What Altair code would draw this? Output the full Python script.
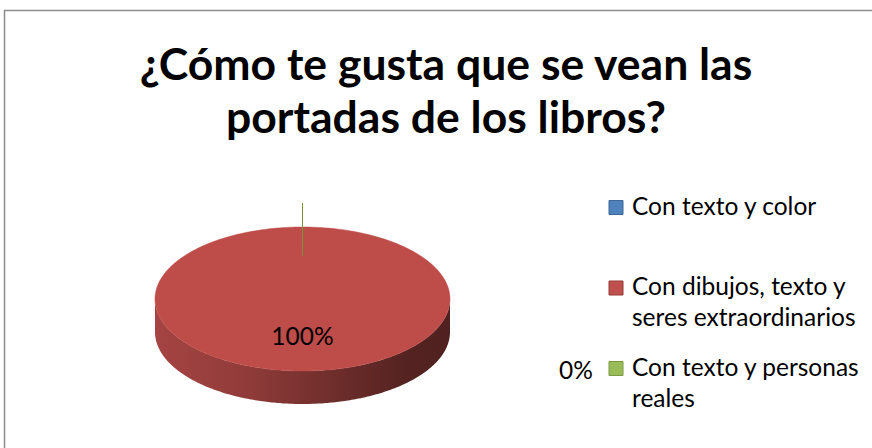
import altair as alt
import numpy as np
import pandas as pd

# ---------------- data ----------------
title_lines = ["¿Cómo te gusta que se vean las", "portadas de los libros?"]
categories = [
    "Con texto y color",
    "Con dibujos, texto y seres extraordinarios",
    "Con texto y personas reales",
]
legend_lines = [
    ["Con texto y color"],
    ["Con dibujos, texto y", "seres extraordinarios"],
    ["Con texto y personas", "reales"],
]
values = [0, 100, 0]

# ---------------- style ----------------
legend_colors = ["#4F81BD", "#C0504D", "#9BBB59"]
legend_borders = ["#3B679C", "#9A3B38", "#789A3E"]
top_colors = ["#4A7EBB", "#BE4C49", "#98B954"]
side_shades = [0.86, 0.76, 0.58, 0.44, 0.42]
FONT = "Lato"
TITLE_SIZE = 44.5
TEXT_SIZE = 24.5

W, H = 868, 438            # view (page minus left/top padding)
PAD_L, PAD_T = 4, 10
CX, CY = 298.5, 289        # pie centre inside the view (pixels)
RX, RY, DEPTH = 147.5, 72, 33
LABEL_R = 0.54             # inner label radius fraction
OUTSIDE_LABEL = (273.5, -73)   # where the 0% label is drawn (pie units)

TITLE_X, TITLE_Y0, TITLE_DY = 442, 70, 53
LEG_SQ_X, LEG_TX, LEG_Y0, LEG_DY, LEG_LH = 612, 628, 197.5, 80.5, 31


def shade(hexcol, k):
    r, g, b = (int(hexcol[i:i + 2], 16) for i in (1, 3, 5))
    return "#%02X%02X%02X" % (int(r * k), int(g * k), int(b * k))


total = sum(values)
fracs = [v / total for v in values]
starts = np.concatenate([[0], np.cumsum(fracs)[:-1]]) * 360
ends = starts + np.array(fracs) * 360

xs = alt.Scale(domain=[-CX, W - CX], nice=False, zero=False)
ys = alt.Scale(domain=[-(H - CY), CY], nice=False, zero=False)
X = lambda f: alt.X(f, scale=xs, axis=None)
Y = lambda f: alt.Y(f, scale=ys, axis=None)

layers = []

# side walls (front half only)
for cat, a0, a1, col in zip(categories, starts, ends, legend_colors):
    lo, hi = max(a0, 90), min(a1, 270)
    if hi <= lo:
        continue
    t = np.radians(np.linspace(lo, hi, 241))
    df = pd.DataFrame({"cat": cat, "x": RX * np.sin(t), "yt": RY * np.cos(t)})
    df["yb"] = df["yt"] - DEPTH
    grad = alt.Gradient(
        gradient="linear", x1=0, x2=1, y1=0, y2=0,
        stops=[alt.GradientStop(offset=o, color=shade(col, k))
               for o, k in zip([0, 0.3, 0.6, 0.85, 1], side_shades)],
    )
    layers.append(alt.Chart(df).mark_area(color=grad, strokeWidth=0).encode(
        x=X("x:Q"), y=Y("yt:Q"), y2="yb:Q"))

# top faces
for cat, a0, a1, col in zip(categories, starts, ends, top_colors):
    if a1 <= a0:
        continue
    t = np.radians(np.linspace(a0, a1, 361))
    px = np.concatenate([[0], RX * np.sin(t), [0]])
    py = np.concatenate([[0], RY * np.cos(t), [0]])
    df = pd.DataFrame({"cat": cat, "i": np.arange(len(px)), "x": px, "y": py})
    layers.append(alt.Chart(df).mark_line(fill=col, stroke=col, strokeWidth=0.5).encode(
        x=X("x:Q"), y=Y("y:Q"), order="i:Q"))

# zero-size slice edge (green)
zero_green = pd.DataFrame({"x": [RX * np.sin(np.radians(ends[2]))], "y": [0.6 * RY], "y2": [RY + 24]})
layers.append(alt.Chart(zero_green).mark_rule(color="#77933C", strokeWidth=1).encode(
    x=X("x:Q"), y=Y("y:Q"), y2="y2:Q"))

# data labels
lab_rows = []
for k, (v, a0, a1) in enumerate(zip(values, starts, ends)):
    txt = f"{round(v / total * 100)}%"
    if v > 0:
        mid = np.radians((a0 + a1) / 2)
        lab_rows.append({"x": LABEL_R * RX * np.sin(mid), "y": LABEL_R * RY * np.cos(mid), "t": txt})
    elif k == 2:
        lab_rows.append({"x": OUTSIDE_LABEL[0], "y": OUTSIDE_LABEL[1], "t": txt})
layers.append(alt.Chart(pd.DataFrame(lab_rows)).mark_text(
    font=FONT, fontSize=TEXT_SIZE, color="#000000", align="center", baseline="middle").encode(
    x=X("x:Q"), y=Y("y:Q"), text="t:N"))

# legend (drawn by hand, one row per category)
one = pd.DataFrame({"a": [0]})
for k, (lines, col, bcol) in enumerate(zip(legend_lines, legend_colors, legend_borders)):
    yc = LEG_Y0 + k * LEG_DY
    layers.append(alt.Chart(one).mark_square(size=196, fill=col, stroke=bcol, strokeWidth=1, opacity=1).encode(
        x=alt.value(LEG_SQ_X), y=alt.value(yc)))
    for j, ln in enumerate(lines):
        layers.append(alt.Chart(one).mark_text(
            font=FONT, fontSize=TEXT_SIZE, color="#000000", align="left", baseline="middle").encode(
            x=alt.value(LEG_TX), y=alt.value(yc + j * LEG_LH), text=alt.value(ln)))

# title
for j, ln in enumerate(title_lines):
    layers.append(alt.Chart(one).mark_text(
        font=FONT, fontSize=TITLE_SIZE, fontWeight="bold", color="#000000",
        align="center", baseline="alphabetic").encode(
        x=alt.value(TITLE_X), y=alt.value(TITLE_Y0 + j * TITLE_DY), text=alt.value(ln)))

# outer frame (left and top edges)
layers.append(alt.Chart(one).mark_rule(color="#8C8C8C", strokeWidth=1.5).encode(
    x=alt.value(0.5), y=alt.value(0), y2=alt.value(H)))
layers.append(alt.Chart(one).mark_rule(color="#8C8C8C", strokeWidth=1.5).encode(
    x=alt.value(0), x2=alt.value(W), y=alt.value(0.5)))

chart = alt.layer(*layers).properties(
    width=W, height=H,
    padding={"left": PAD_L, "top": PAD_T, "right": 0, "bottom": 0},
    autosize=alt.AutoSizeParams(type="none"),
    background="#FFFFFF",
).configure_view(stroke=None)

chart.save("out.html", embed_options={"renderer": "svg", "actions": False})
